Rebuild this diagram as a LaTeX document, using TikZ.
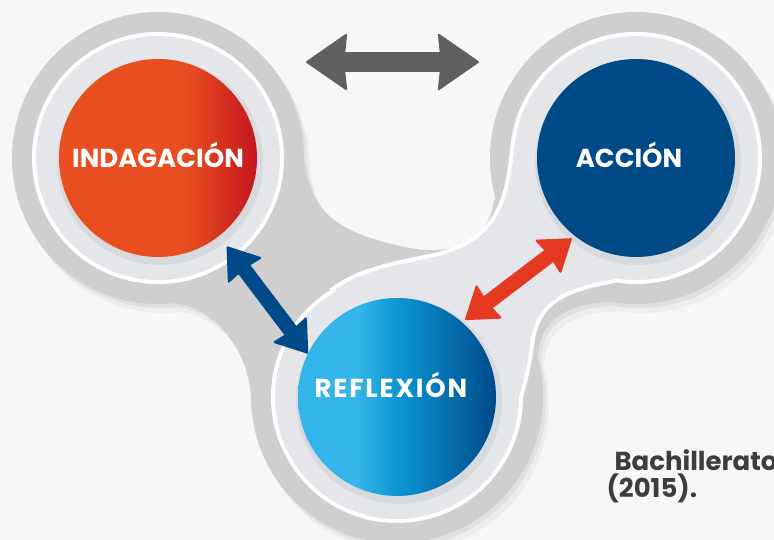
\documentclass[tikz,border=0pt]{standalone}
\usepackage{fontspec}
\setmainfont{Poppins}
\usetikzlibrary{arrows.meta}
\definecolor{bggray}{HTML}{F7F7F7}
\definecolor{blobgray}{HTML}{CFCFCF}
\definecolor{shadowfar}{HTML}{EDEDED}
\definecolor{shadownear}{HTML}{E0E0E0}
\definecolor{ringgray}{HTML}{E4E6E9}
\definecolor{discshadow}{HTML}{D6D9DD}
\definecolor{indorange}{HTML}{E94E20}
\definecolor{indred}{HTML}{C3161F}
\definecolor{accblue}{HTML}{004A87}
\definecolor{refllight}{HTML}{33B5E9}
\definecolor{reflmid}{HTML}{0A93CF}
\definecolor{refldark}{HTML}{004A8A}
\definecolor{arrowgray}{HTML}{606060}
\definecolor{arrowblue}{HTML}{004A8A}
\definecolor{arrowred}{HTML}{E53A21}
\definecolor{textgray}{HTML}{3D3D3D}
\pgfdeclarehorizontalshading{indshade}{100bp}{color(0bp)=(indorange); color(25bp)=(indorange); color(57bp)=(indorange); color(75bp)=(indred); color(100bp)=(indred)}
\pgfdeclarehorizontalshading{reflshade}{100bp}{color(0bp)=(refllight); color(25bp)=(refllight); color(40bp)=(refllight); color(51bp)=(reflmid); color(75bp)=(refldark); color(100bp)=(refldark)}

\begin{document}
\begin{tikzpicture}[x=1pt,y=-1pt]
\tikzset{
    disc/.style={%
        circle,
        inner sep=0pt,
        minimum size=198pt
        },
    lbl/.style={%
        text=white, anchor=base,
        font=\bfseries\fontsize{26}{26}\selectfont
        },
    srclbl/.style={%
        text=textgray, anchor=base west,
        font=\bfseries\fontsize{26}{26}\selectfont
        },
    grayarrow/.style={%
        draw=arrowgray, line width=20pt,
        >={Stealth[length=42pt,width=58pt,inset=3pt,line width=2pt,round]}, <->
        },
    bluearrow/.style={%
        draw=arrowblue, line width=15pt,
        >={Stealth[length=31pt,width=43pt,inset=2pt,line width=2pt,round]}, <->
        },
    redarrow/.style={%
        draw=arrowred, line width=15pt,
        >={Stealth[length=31pt,width=43pt,inset=2pt,line width=2pt,round]}, <->
        },
    outerblob/.style={insert path={%
        (158,158) circle (146pt) (636,158) circle (146pt) (397,397) circle (146pt)
        (158,158) -- (171,303) .. controls (215,305) and (248,350) .. (251,397)
        -- (397,397) -- (538,359) .. controls (538,318) and (570,303) .. (611,302)
        -- (636,158) -- (494,200) .. controls (488,250) and (440,256) .. (400,246)
        .. controls (340,232) and (310,215) .. (304,158) -- cycle}},
    lightblob/.style={insert path={%
        (397,397) circle (122pt) (636,158) circle (122pt)
        (397,397) -- (519,397) .. controls (522,385) and (527,370) .. (530,345)
        .. controls (535,300) and (565,288) .. (614,279) -- (636,158)
        -- (514,150) .. controls (508,215) and (490,245) .. (430,258)
        .. controls (390,266) and (360,272) .. (335,290) -- cycle}},
}
%%%BACKGROUND
\fill[bggray] (0,0) rectangle (774,540);
\useasboundingbox (0,0) rectangle (774,540);
%%%CENTRES
\coordinate (indc) at (158,158);
\coordinate (accc) at (636,158);
\coordinate (reflc) at (397,397);
%%%OUTER BLOB
\fill[shadowfar, shift={(6,9)}, outerblob];
\fill[shadownear, shift={(3,4)}, outerblob];
\fill[blobgray, outerblob];
%%%LIGHT RINGS
\draw[white, line width=8pt, fill=white] (indc) circle (122pt);
\fill[ringgray] (indc) circle (122pt);
\draw[white, line width=8pt, fill=white, lightblob];
\fill[ringgray, lightblob];
%%%DISC SHADOWS
\fill[discshadow] ([xshift=2pt,yshift=-4pt]indc) circle (103pt);
\fill[discshadow] ([xshift=2pt,yshift=-4pt]accc) circle (103pt);
\fill[discshadow] ([xshift=2pt,yshift=-4pt]reflc) circle (103pt);
%%%DISCS
\node[disc, shading=indshade] (ind) at (indc) {};
\node[disc, fill=accblue] (acc) at (accc) {};
\node[disc, shading=reflshade] (refl) at (reflc) {};
\node[lbl] (indlbl) at (158,168) {INDAGACIÓN};
\node[lbl] (acclbl) at (629,168) {ACCIÓN};
\node[lbl] (refllbl) at (391,397) {\addfontfeatures{LetterSpace=7}REFLEXIÓN};
%%%ARROWS
\coordinate (gl) at (306,62);
\coordinate (gr) at (479,62);
\draw[grayarrow] (gl) -- (gr);
\draw[bluearrow, shorten <=13pt] (ind.-52) -- (refl.154);
\draw[redarrow, shorten <=4pt, shorten >=4pt] (refl.49) -- (acc.-128);
%%%SOURCE
\node[srclbl] (src1) at (611,470) {Bachillerato};
\node[srclbl] (src2) at (603,497) {(2015).};
\end{tikzpicture}
\end{document}
